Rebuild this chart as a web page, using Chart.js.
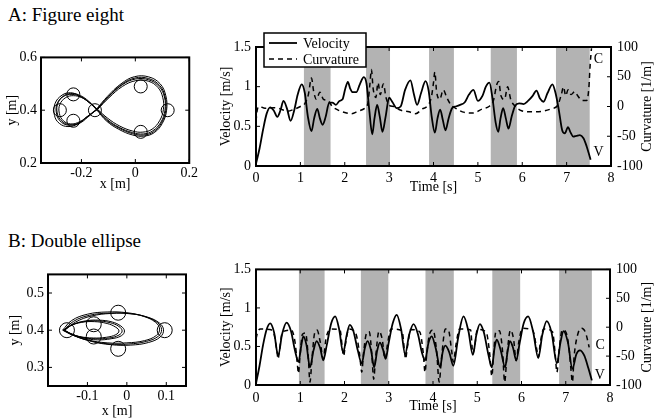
<!DOCTYPE html>
<html>
<head>
<meta charset="utf-8">
<script src="https://cdn.jsdelivr.net/npm/chart.js@4.4.1/dist/chart.umd.min.js"></script>
<style>
body { margin: 0; width: 656px; height: 420px; overflow: hidden; position: relative; background: #fff; font-family: "Liberation Serif", "Times New Roman", "DejaVu Serif", serif; }
canvas { position: absolute; }
.ttl { position: absolute; font-size: 19px; line-height: 22px; color: #000; white-space: nowrap; }
</style>
</head>
<body>
<div class="ttl" style="left:8px;top:4px">A: Figure eight</div>
<div class="ttl" style="left:8px;top:230px">B: Double ellipse</div>
<canvas id="pathA" width="200" height="150" style="left:0;top:45px"></canvas>
<canvas id="timeA" width="456" height="170" style="left:200px;top:28px"></canvas>
<canvas id="pathB" width="200" height="164" style="left:0;top:262px"></canvas>
<canvas id="timeB" width="456" height="165" style="left:200px;top:255px"></canvas>
<script>
// ---- A: figure eight, hand path (m), four loops
let eightX1 = [-0.142,-0.10,-0.05,0.00,0.05,0.088,0.108,0.11,0.095,0.065,0.03,-0.01,-0.06,-0.105,-0.142,-0.175,-0.205,-0.235,-0.265,-0.29,-0.292,-0.275,-0.245,-0.21,-0.175,-0.142];
let eightY1 = [0.403,0.45,0.495,0.518,0.515,0.49,0.45,0.40,0.355,0.322,0.31,0.315,0.335,0.365,0.403,0.432,0.452,0.46,0.453,0.425,0.385,0.355,0.343,0.352,0.378,0.403];
let eightX2 = [-0.145,-0.103,-0.053,-0.003,0.05,0.092,0.113,0.116,0.1,0.07,0.033,-0.01,-0.062,-0.108,-0.145,-0.178,-0.21,-0.24,-0.272,-0.298,-0.3,-0.282,-0.25,-0.213,-0.178,-0.145];
let eightY2 = [0.403,0.453,0.5,0.527,0.526,0.5,0.455,0.40,0.35,0.315,0.302,0.306,0.328,0.36,0.403,0.435,0.456,0.466,0.457,0.425,0.38,0.35,0.338,0.348,0.376,0.403];
let eightX3 = [-0.14,-0.098,-0.048,0.002,0.048,0.084,0.102,0.104,0.09,0.062,0.028,-0.01,-0.058,-0.102,-0.14,-0.172,-0.2,-0.23,-0.258,-0.28,-0.282,-0.267,-0.24,-0.207,-0.173,-0.14];
let eightY3 = [0.403,0.447,0.49,0.512,0.51,0.486,0.447,0.402,0.36,0.328,0.317,0.321,0.34,0.369,0.403,0.43,0.448,0.455,0.448,0.422,0.388,0.36,0.348,0.356,0.38,0.403];
let eightX4 = [-0.143,-0.1,-0.051,-0.001,0.049,0.09,0.11,0.113,0.097,0.067,0.031,-0.01,-0.06,-0.106,-0.143,-0.173,-0.203,-0.232,-0.262,-0.286,-0.29,-0.272,-0.243,-0.208,-0.176,-0.143];
let eightY4 = [0.403,0.451,0.497,0.522,0.52,0.494,0.452,0.40,0.352,0.318,0.306,0.311,0.332,0.362,0.403,0.434,0.455,0.463,0.457,0.43,0.39,0.358,0.345,0.35,0.374,0.403];
let eightTargetX = [-0.23,-0.28,-0.23,-0.15,0.02,0.12,0.02];
let eightTargetY = [0.46,0.40,0.36,0.40,0.49,0.40,0.318];
let eightXTicks = [-0.2, 0, 0.2];
let eightYTicks = [0.2, 0.4, 0.6];

// ---- B: double ellipse, hand path (m)
let bigX1 = [-0.16,-0.135,-0.095,-0.045,0.005,0.048,0.078,0.088,0.08,0.05,0.005,-0.045,-0.095,-0.138,-0.16];
let bigY1 = [0.40,0.424,0.44,0.446,0.445,0.436,0.42,0.402,0.384,0.37,0.363,0.363,0.372,0.387,0.40];
let bigX2 = [-0.158,-0.13,-0.09,-0.04,0.01,0.053,0.083,0.093,0.085,0.055,0.01,-0.04,-0.09,-0.135,-0.158];
let bigY2 = [0.40,0.422,0.438,0.445,0.444,0.435,0.419,0.401,0.382,0.367,0.36,0.361,0.37,0.386,0.40];
let bigX3 = [-0.163,-0.14,-0.1,-0.05,0.0,0.043,0.073,0.083,0.075,0.045,0.0,-0.05,-0.1,-0.142,-0.163];
let bigY3 = [0.40,0.426,0.443,0.449,0.447,0.437,0.421,0.403,0.386,0.372,0.366,0.366,0.374,0.389,0.40];
let smallX1 = [-0.16,-0.14,-0.11,-0.075,-0.042,-0.02,-0.012,-0.02,-0.045,-0.08,-0.115,-0.143,-0.16];
let smallY1 = [0.40,0.414,0.423,0.425,0.42,0.41,0.398,0.387,0.379,0.377,0.381,0.391,0.40];
let smallX2 = [-0.158,-0.137,-0.105,-0.07,-0.037,-0.015,-0.006,-0.014,-0.04,-0.075,-0.11,-0.14,-0.158];
let smallY2 = [0.40,0.415,0.425,0.427,0.422,0.411,0.398,0.385,0.377,0.374,0.379,0.39,0.40];
let smallX3 = [-0.162,-0.143,-0.115,-0.082,-0.05,-0.028,-0.02,-0.028,-0.052,-0.085,-0.12,-0.146,-0.162];
let smallY3 = [0.40,0.412,0.421,0.423,0.418,0.408,0.398,0.388,0.381,0.379,0.383,0.392,0.40];
let ellTargetX = [-0.152,-0.084,-0.084,-0.022,-0.022,0.096];
let ellTargetY = [0.40,0.416,0.383,0.447,0.35,0.40];
let ellXTicks = [-0.1, 0, 0.1];
let ellYTicks = [0.3, 0.4, 0.5];

// ---- time series
let timeTicks = [0, 1, 2, 3, 4, 5, 6, 7, 8];
let velTicks = [0, 0.5, 1, 1.5];
let curvTicks = [-100, -50, 0, 50, 100];

let tVelA = [0, 0.08, 0.16, 0.24, 0.32, 0.40, 0.48, 0.55, 0.62, 0.70,
  0.78, 0.86, 0.94, 1.03, 1.10, 1.17, 1.25, 1.31, 1.38, 1.44,
  1.50, 1.57, 1.65, 1.72, 1.80, 1.88, 1.95, 2.01, 2.07, 2.12,
  2.18, 2.26, 2.34, 2.43, 2.49, 2.55, 2.62, 2.67, 2.73, 2.79,
  2.85, 2.92, 3.00, 3.08, 3.17, 3.26, 3.36, 3.48, 3.56, 3.63,
  3.72, 3.82, 3.89, 3.96, 4.03, 4.09, 4.15, 4.21, 4.27, 4.34,
  4.42, 4.50, 4.60, 4.70, 4.80, 4.90, 5.00, 5.10, 5.18, 5.26,
  5.33, 5.40, 5.46, 5.51, 5.57, 5.63, 5.69, 5.76, 5.84, 5.93,
  6.03, 6.13, 6.23, 6.32, 6.40, 6.48, 6.57, 6.68, 6.75, 6.82,
  6.90, 6.96, 7.03, 7.09, 7.15, 7.22, 7.30, 7.38, 7.45, 7.54];
let velA = [0.03, 0.22, 0.46, 0.66, 0.74, 0.70, 0.62, 0.70, 0.82, 0.72,
  0.57, 0.70, 0.90, 1.03, 0.92, 0.62, 0.44, 0.60, 0.72, 0.60,
  0.52, 0.62, 0.80, 0.80, 0.77, 0.82, 0.84, 0.97, 1.06, 0.98,
  0.93, 0.93, 1.03, 1.12, 1.04, 0.72, 0.40, 0.60, 0.77, 0.62,
  0.43, 0.62, 0.86, 0.80, 0.73, 0.75, 0.96, 1.08, 0.90, 0.77,
  0.92, 1.07, 0.95, 0.62, 0.42, 0.60, 0.71, 0.58, 0.45, 0.60,
  0.73, 0.75, 0.77, 0.80, 0.90, 0.96, 0.82, 0.88, 1.00, 1.05,
  0.85, 0.55, 0.43, 0.60, 0.73, 0.60, 0.47, 0.62, 0.76, 0.79,
  0.78, 0.82, 0.88, 0.95, 0.85, 0.81, 0.92, 1.03, 0.92, 0.72,
  0.45, 0.41, 0.49, 0.42, 0.37, 0.38, 0.39, 0.35, 0.25, 0.08];
let tCurvA = [0.00, 0.03, 0.08, 0.20, 0.40, 0.55, 0.70, 0.85, 1.00, 1.10,
  1.18, 1.25, 1.30, 1.36, 1.44, 1.52, 1.62, 1.72, 1.85, 2.00,
  2.15, 2.30, 2.45, 2.52, 2.57, 2.60, 2.64, 2.70, 2.75, 2.80,
  2.87, 2.93, 3.00, 3.10, 3.25, 3.45, 3.60, 3.75, 3.85, 3.95,
  4.00, 4.03, 4.07, 4.14, 4.22, 4.30, 4.40, 4.50, 4.65, 4.90,
  5.10, 5.25, 5.35, 5.43, 5.47, 5.52, 5.60, 5.67, 5.74, 5.82,
  5.95, 6.20, 6.45, 6.65, 6.80, 6.88, 6.93, 6.98, 7.03, 7.10,
  7.18, 7.25, 7.35, 7.45, 7.50, 7.53, 7.56];
let curvA = [-25, -5, 0, -3, -2, -4, -8, -5, 0, 5,
  20, 48, 25, 12, 24, 12, 10, 0, -6, -10,
  -12, -8, -3, 5, 40, 62, 30, 15, 40, 20,
  38, 15, 2, 0, -6, -9, -12, -4, 0, 15,
  40, 58, 25, 12, 28, 15, 2, -3, -9, -11,
  -4, 0, 10, 38, 42, 18, 12, 33, 12, 2,
  -6, -9, -8, -4, 2, 20, 33, 18, 28, 20,
  25, 18, 10, 10, 30, 70, 98];
let bandStartA = [1.08, 2.48, 3.90, 5.29, 6.76];
let bandEndA = [1.68, 3.02, 4.46, 5.88, 7.52];

let tVelB = [0, 0.08, 0.16, 0.24, 0.32, 0.41, 0.50, 0.59, 0.69, 0.79,
  0.88, 0.96, 1.02, 1.07, 1.14, 1.22, 1.30, 1.37, 1.45, 1.52,
  1.60, 1.70, 1.79, 1.88, 1.97, 2.05, 2.12, 2.20, 2.30, 2.39,
  2.46, 2.52, 2.60, 2.67, 2.74, 2.80, 2.87, 2.93, 3.00, 3.09,
  3.18, 3.28, 3.37, 3.46, 3.56, 3.66, 3.75, 3.82, 3.90, 3.97,
  4.06, 4.16, 4.22, 4.28, 4.37, 4.46, 4.57, 4.69, 4.80, 4.90,
  4.98, 5.06, 5.15, 5.25, 5.33, 5.39, 5.44, 5.53, 5.63, 5.69,
  5.74, 5.81, 5.88, 5.96, 6.05, 6.15, 6.26, 6.38, 6.47, 6.57,
  6.68, 6.80, 6.88, 6.95, 7.05, 7.15, 7.24, 7.32, 7.42, 7.51,
  7.59];
let velB = [0.02, 0.25, 0.52, 0.72, 0.80, 0.68, 0.38, 0.66, 0.81, 0.70,
  0.45, 0.30, 0.50, 0.63, 0.52, 0.23, 0.45, 0.57, 0.48, 0.32,
  0.52, 0.80, 0.89, 0.72, 0.42, 0.65, 0.78, 0.70, 0.45, 0.28,
  0.48, 0.57, 0.45, 0.23, 0.45, 0.55, 0.46, 0.34, 0.55, 0.80,
  0.91, 0.72, 0.40, 0.65, 0.79, 0.66, 0.42, 0.32, 0.55, 0.63,
  0.48, 0.23, 0.43, 0.51, 0.42, 0.25, 0.62, 0.89, 0.70, 0.39,
  0.65, 0.79, 0.68, 0.40, 0.23, 0.48, 0.59, 0.45, 0.23, 0.45,
  0.57, 0.48, 0.32, 0.55, 0.80, 0.89, 0.70, 0.35, 0.65, 0.83,
  0.68, 0.28, 0.55, 0.70, 0.55, 0.21, 0.40, 0.45, 0.38, 0.22,
  0.06];
let tCurvB = [0.00, 0.04, 0.10, 0.30, 0.40, 0.47, 0.50, 0.53, 0.60, 0.80,
  0.88, 0.93, 0.96, 0.99, 1.05, 1.12, 1.18, 1.22, 1.26, 1.32,
  1.38, 1.45, 1.52, 1.58, 1.70, 1.90, 1.95, 1.98, 2.02, 2.10,
  2.25, 2.34, 2.39, 2.43, 2.50, 2.56, 2.62, 2.66, 2.70, 2.78,
  2.85, 2.92, 2.97, 3.05, 3.30, 3.36, 3.38, 3.42, 3.50, 3.70,
  3.78, 3.82, 3.86, 3.93, 4.00, 4.08, 4.14, 4.19, 4.28, 4.35,
  4.42, 4.46, 4.52, 4.60, 4.85, 4.90, 4.94, 5.00, 5.20, 5.28,
  5.33, 5.37, 5.42, 5.50, 5.57, 5.62, 5.67, 5.75, 5.82, 5.88,
  5.94, 6.02, 6.25, 6.35, 6.38, 6.42, 6.50, 6.70, 6.76, 6.80,
  6.85, 6.92, 7.00, 7.08, 7.12, 7.15, 7.19, 7.28, 7.36, 7.45,
  7.53];
let curvB = [-20, -8, -3, -4, -10, -40, -55, -40, -8, -5,
  -25, -60, -80, -55, -12, -10, -50, -95, -60, -12,
  -5, -25, -55, -20, -3, -5, -35, -50, -30, -3,
  -10, -45, -78, -45, -10, -8, -50, -90, -55, -7,
  -20, -55, -30, -3, -6, -45, -55, -35, -4, -8,
  -45, -78, -45, -10, -5, -40, -95, -55, -3, -5,
  -40, -60, -30, -3, -5, -45, -35, -4, -8, -45,
  -85, -45, -8, -6, -40, -95, -50, -5, -20, -58,
  -25, -2, -5, -40, -52, -30, -3, -8, -45, -78,
  -40, -5, -8, -40, -75, -95, -50, -10, -2, -10,
  -35];
let bandStartB = [0.97, 2.37, 3.83, 5.34, 6.85];
let bandEndB = [1.55, 2.99, 4.47, 5.97, 7.59];

const SERIF = '"Liberation Serif", "Times New Roman", "DejaVu Serif", serif';
Chart.defaults.font.family = SERIF;
Chart.defaults.color = '#000';

const boxPlugin = {
  id: 'box',
  beforeDatasetsDraw(chart, args, o) {
    if (!o.bands) return;
    const ctx = chart.ctx, a = chart.chartArea, x = chart.scales.x;
    ctx.save();
    ctx.fillStyle = '#b3b3b3';
    o.bands[0].forEach((s, i) => {
      const x0 = x.getPixelForValue(s), x1 = x.getPixelForValue(o.bands[1][i]);
      ctx.fillRect(x0, a.top, x1 - x0, a.bottom - a.top);
    });
    ctx.restore();
  },
  afterDatasetsDraw(chart) {
    const ctx = chart.ctx, a = chart.chartArea, sc = chart.scales;
    const x = sc.x, yl = sc.y, yr = sc.yC || sc.y;
    ctx.save();
    ctx.strokeStyle = '#000';
    ctx.lineWidth = 1;
    ctx.beginPath();
    x.ticks.forEach(t => {
      const p = x.getPixelForValue(t.value);
      ctx.moveTo(p, a.bottom); ctx.lineTo(p, a.bottom - 4);
      ctx.moveTo(p, a.top); ctx.lineTo(p, a.top + 4);
    });
    yl.ticks.forEach(t => {
      const p = yl.getPixelForValue(t.value);
      ctx.moveTo(a.left, p); ctx.lineTo(a.left + 4, p);
    });
    yr.ticks.forEach(t => {
      const p = yr.getPixelForValue(t.value);
      ctx.moveTo(a.right, p); ctx.lineTo(a.right - 4, p);
    });
    ctx.stroke();
    ctx.lineWidth = 2;
    ctx.strokeRect(a.left, a.top, a.right - a.left, a.bottom - a.top);
    ctx.restore();
  },
  afterDraw(chart, args, o) {
    const ctx = chart.ctx, a = chart.chartArea;
    ctx.save();
    ctx.fillStyle = '#000';
    ctx.strokeStyle = '#000';
    ctx.font = '14px ' + SERIF;
    ctx.textBaseline = 'middle';
    if (o.rightTitle) {
      const yc = chart.scales.yC;
      ctx.save();
      ctx.translate(yc.right - 9, (a.top + a.bottom) / 2);
      ctx.rotate(-Math.PI / 2);
      ctx.textAlign = 'center';
      ctx.fillText(o.rightTitle, 0, 0);
      ctx.restore();
    }
    if (o.ends) {
      ctx.textAlign = 'center';
      o.ends.forEach(e => {
        const pts = chart.getDatasetMeta(e.ds).data;
        const pt = pts[pts.length - 1];
        ctx.fillText(e.text, pt.x + e.dx, pt.y + e.dy);
      });
    }
    if (o.legend) {
      const L = a.left + 8, T = a.top - 14;
      ctx.fillStyle = '#fff';
      ctx.fillRect(L, T, 102, 34);
      ctx.lineWidth = 1.5;
      ctx.strokeRect(L, T, 102, 34);
      chart.data.datasets.forEach((d, i) => {
        const yy = T + 10 + i * 16;
        ctx.setLineDash(d.borderDash || []);
        ctx.lineWidth = d.borderWidth;
        ctx.beginPath();
        ctx.moveTo(L + 5, yy); ctx.lineTo(L + 33, yy);
        ctx.stroke();
        ctx.setLineDash([]);
        ctx.fillStyle = '#000';
        ctx.textAlign = 'left';
        ctx.fillText(d.label, L + 39, yy + 1);
      });
    }
    ctx.restore();
  }
};

function scale(pos, min, max, vals, size, pad, title, tpad) {
  return {
    type: 'linear', position: pos, min: min, max: max,
    grid: { display: false, drawTicks: false },
    border: { display: false },
    ticks: { color: '#000', font: { size: 14, family: SERIF }, padding: pad, autoSkip: false, maxRotation: 0, callback: v => String(v) },
    afterBuildTicks: s => { s.ticks = vals.map(v => ({ value: v })); },
    afterFit: s => { if (s.isHorizontal()) s.height = size; else s.width = size; },
    title: title ? { display: true, text: title, color: '#000', font: { size: 14, family: SERIF }, padding: tpad } : { display: false }
  };
}

function pts(xs, ys) {
  return xs.map((v, i) => ({ x: v, y: ys[i] }));
}

function pathChart(id, loops, tx, ty, r, xs, ys, lay) {
  const ds = loops.map(l => ({
    data: pts(l[0], l[1]), showLine: true, borderColor: '#000', borderWidth: 1,
    pointRadius: 0, tension: 0.4, fill: false
  }));
  ds.push({
    data: pts(tx, ty), showLine: false, pointRadius: r, pointStyle: 'circle',
    pointBorderColor: '#000', pointBackgroundColor: 'rgba(0,0,0,0)', pointBorderWidth: 1
  });
  new Chart(document.getElementById(id), {
    type: 'scatter',
    data: { datasets: ds },
    options: {
      responsive: false, animation: false, devicePixelRatio: 1,
      layout: { padding: { top: lay.top, right: lay.right, left: 0, bottom: 0 } },
      plugins: { legend: { display: false }, tooltip: { enabled: false }, box: {} },
      scales: {
        x: scale('bottom', xs[0], xs[1], xs[2], lay.xh, lay.xpad, 'x [m]', { top: 0, bottom: lay.xtp }),
        y: scale('left', ys[0], ys[1], ys[2], lay.yw, 4, 'y [m]', { top: lay.ytp, bottom: 0 })
      }
    },
    plugins: [boxPlugin]
  });
}

function timeChart(id, tv, v, tc, c, bs, be, lay) {
  new Chart(document.getElementById(id), {
    type: 'line',
    data: { datasets: [
      { label: 'Velocity', data: pts(tv, v), yAxisID: 'y', borderColor: '#000', borderWidth: 1.8,
        pointRadius: 0, cubicInterpolationMode: 'monotone', fill: false },
      { label: 'Curvature', data: pts(tc, c), yAxisID: 'yC', borderColor: '#000', borderWidth: 1.5,
        borderDash: [5, 4], pointRadius: 0, cubicInterpolationMode: 'monotone', fill: false }
    ] },
    options: {
      responsive: false, animation: false, devicePixelRatio: 1,
      layout: { padding: { top: lay.top, right: 0, left: 0, bottom: 0 } },
      plugins: {
        legend: { display: false }, tooltip: { enabled: false },
        box: { bands: [bs, be], legend: lay.legend, rightTitle: 'Curvature [1/m]', ends: lay.ends }
      },
      scales: {
        x: scale('bottom', 0, 8, timeTicks, lay.xh, lay.xpad, 'Time [s]', { top: 0, bottom: lay.xtp }),
        y: scale('left', 0, 1.5, velTicks, 56, 5, 'Velocity [m/s]', { top: 17.6, bottom: 0 }),
        yC: scale('right', -100, 100, curvTicks, lay.rw, 6, null, null)
      }
    },
    plugins: [boxPlugin]
  });
}

pathChart('pathA',
  [[eightX1, eightY1], [eightX2, eightY2], [eightX3, eightY3], [eightX4, eightY4]],
  eightTargetX, eightTargetY, 6.5,
  [-0.35, 0.2, eightXTicks], [0.2, 0.6, eightYTicks],
  { top: 7, right: 9, xh: 32, xpad: 2, xtp: 2.6, yw: 41, ytp: 3.6 });

pathChart('pathB',
  [[bigX1, bigY1], [smallX1, smallY1], [bigX2, bigY2], [smallX2, smallY2], [bigX3, bigY3], [smallX3, smallY3]],
  ellTargetX, ellTargetY, 7.5,
  [-0.2, 0.15, ellXTicks], [0.25, 0.55, ellYTicks],
  { top: 7, right: 14, xh: 40, xpad: 2, xtp: 5.9, yw: 48, ytp: 6.6 });

timeChart('timeA', tVelA, velA, tCurvA, curvA, bandStartA, bandEndA,
  { top: 19, xh: 32, xpad: 4, xtp: 2.6, rw: 45, legend: true,
    ends: [{ ds: 0, text: 'V', dx: 8, dy: -7 }, { ds: 1, text: 'C', dx: 7, dy: 11 }] });

timeChart('timeB', tVelB, velB, tCurvB, curvB, bandStartB, bandEndB,
  { top: 12, xh: 35, xpad: 4.5, xtp: 4.9, rw: 46, legend: false,
    ends: [{ ds: 0, text: 'V', dx: 8, dy: -5 }, { ds: 1, text: 'C', dx: 11, dy: -2 }] });
</script>
</body>
</html>
